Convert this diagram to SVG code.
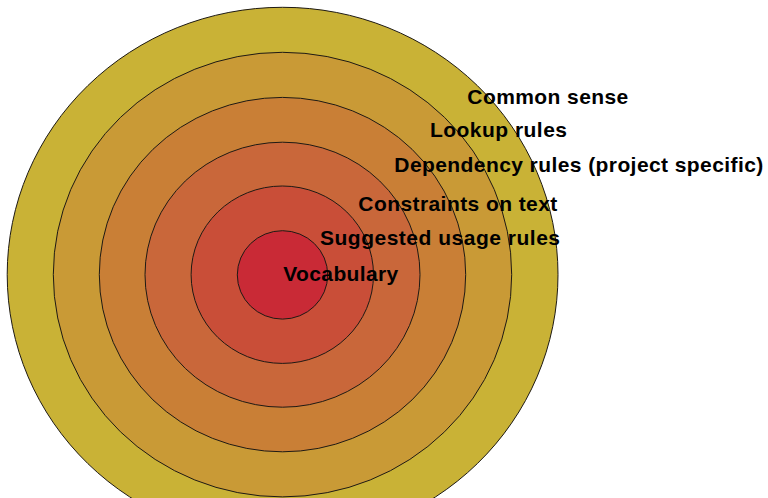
<svg xmlns="http://www.w3.org/2000/svg" width="768" height="498" viewBox="0 0 768 498">
<style>
  .ring { stroke: #1e1a14; stroke-width: 1; }
  .lbl { font-family: "Liberation Sans", Arial, sans-serif; font-weight: bold; font-size: 21px; fill: #000; }
</style>
<rect x="0" y="0" width="768" height="498" fill="#ffffff"/>
<g id="ring-common-sense"><ellipse class="ring" cx="282.6" cy="274.6" rx="275.4" ry="267.3" fill="#c9b236"/></g>
<g id="ring-lookup-rules"><ellipse class="ring" cx="282.5" cy="274.6" rx="229.2" ry="222.3" fill="#c99a36"/></g>
<g id="ring-dependency-rules"><ellipse class="ring" cx="282.5" cy="274.6" rx="183.2" ry="177.2" fill="#c97f36"/></g>
<g id="ring-constraints"><ellipse class="ring" cx="282.5" cy="274.7" rx="137.5" ry="132.5" fill="#c9673a"/></g>
<g id="ring-suggested"><ellipse class="ring" cx="282.3" cy="274.7" rx="91.2" ry="88.7" fill="#c94e38"/></g>
<g id="ring-vocabulary"><ellipse class="ring" cx="282.5" cy="274.9" rx="45.2" ry="44.2" fill="#c92a36"/></g>
<g id="labels">
  <text class="lbl" x="467.3" y="103.5" textLength="161" lengthAdjust="spacing">Common sense</text>
  <text class="lbl" x="430" y="136.7" textLength="137" lengthAdjust="spacing">Lookup rules</text>
  <text class="lbl" x="394.3" y="172.3" textLength="369" lengthAdjust="spacing">Dependency rules (project specific)</text>
  <text class="lbl" x="358.3" y="211.2" textLength="199" lengthAdjust="spacing">Constraints on text</text>
  <text class="lbl" x="320" y="244.7" textLength="240" lengthAdjust="spacing">Suggested usage rules</text>
  <text class="lbl" x="283.3" y="281.2" textLength="115" lengthAdjust="spacing">Vocabulary</text>
</g>
</svg>
